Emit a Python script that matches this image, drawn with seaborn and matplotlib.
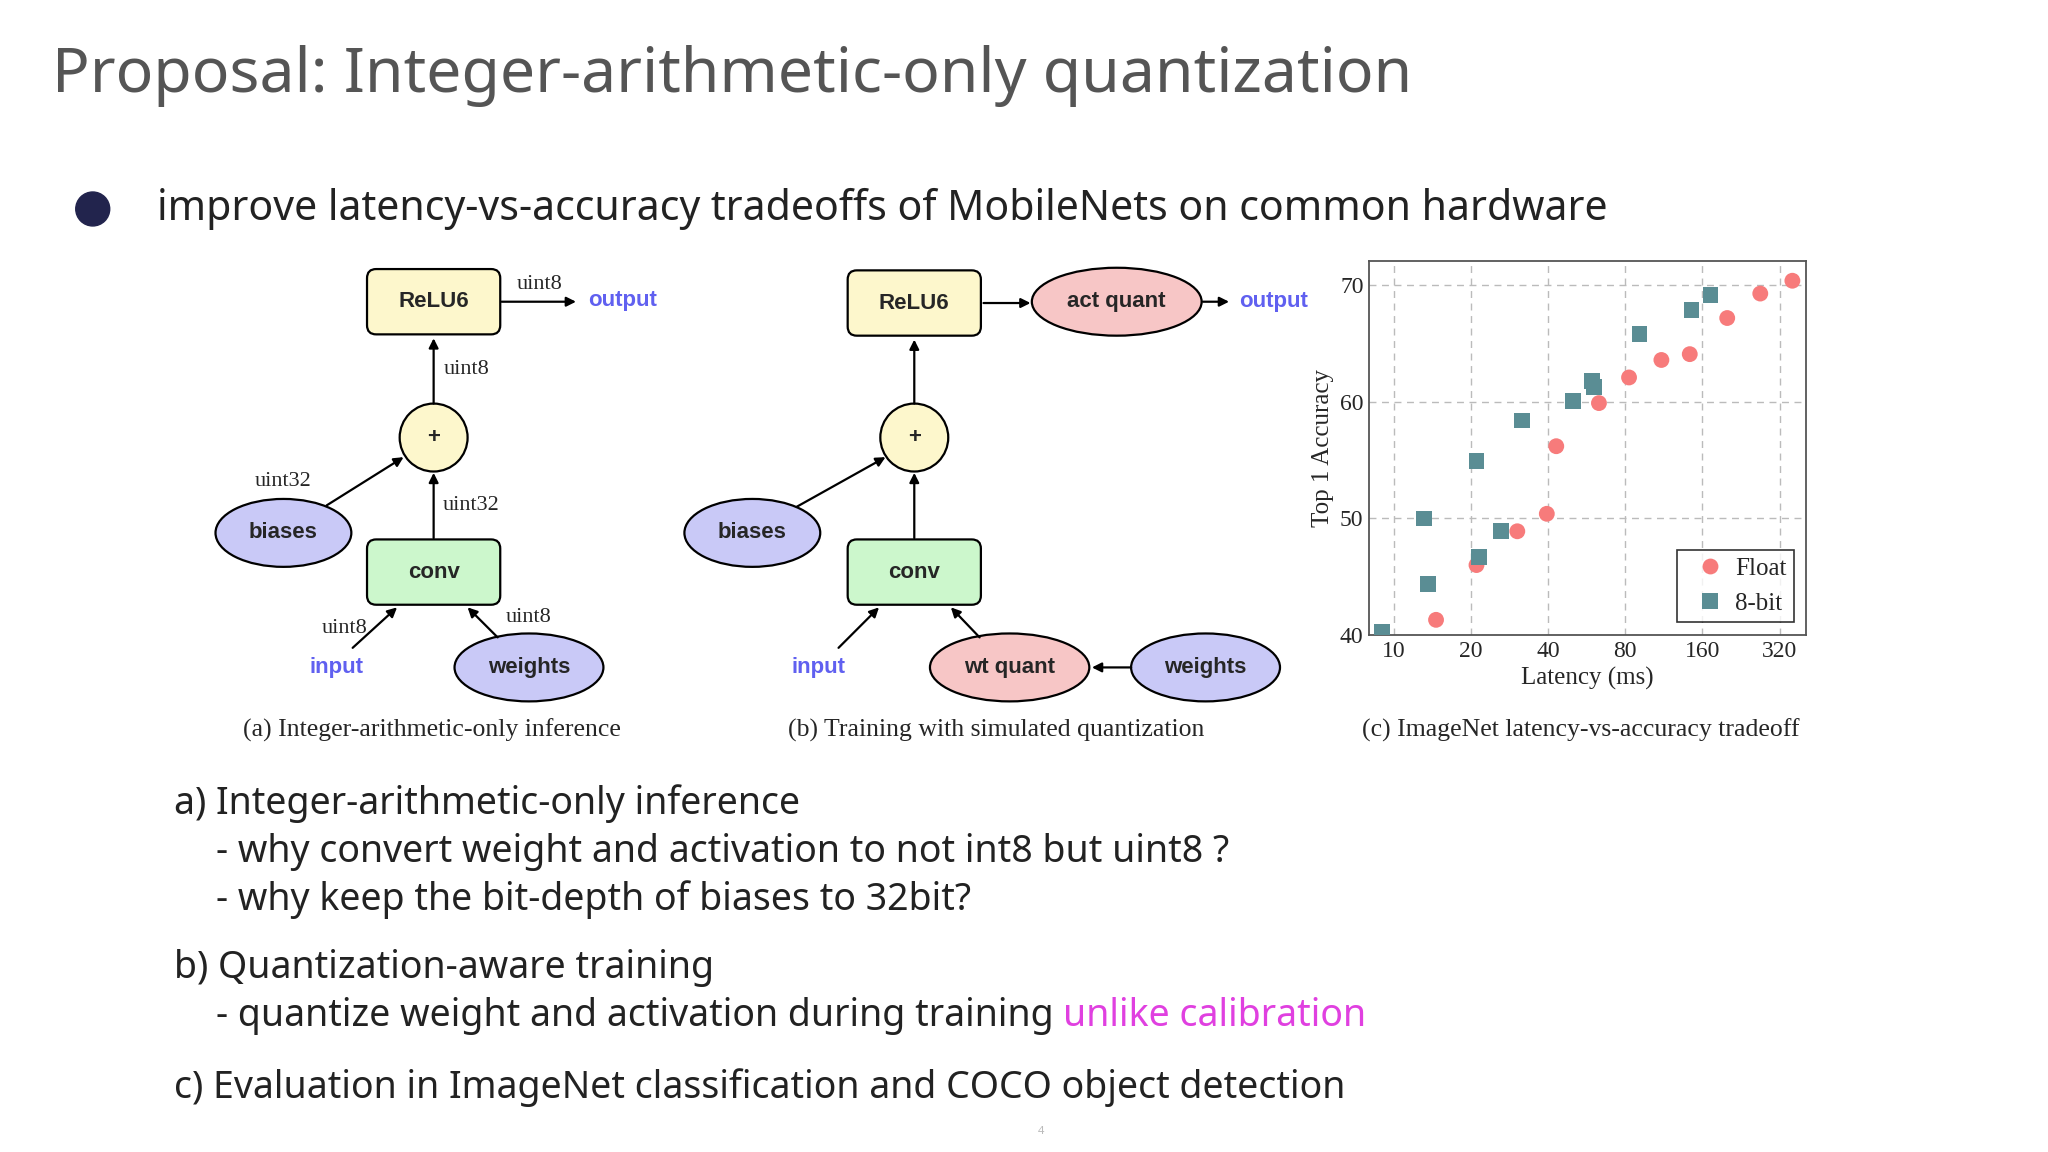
import matplotlib
matplotlib.use("Agg")
import matplotlib.pyplot as plt
from matplotlib.patches import FancyBboxPatch, Ellipse, Circle
import seaborn as sns
import pandas as pd

sns.set_theme(style="whitegrid")
plt.rcParams['font.family'] = ['Noto Sans', 'DejaVu Sans']

# ---- data ----
float_latency = [14.6, 21.0, 30.3, 39.5, 43.0, 63.1, 82.7, 110.6, 142.7, 199.8, 268.9, 358.8]
float_acc = [41.3, 46.0, 48.9, 50.4, 56.2, 59.9, 62.1, 63.6, 64.1, 67.2, 69.3, 70.4]
int8_latency = [9.0, 13.1, 13.6, 21.0, 21.4, 26.2, 31.6, 49.9, 59.4, 60.5, 90.8, 144.9, 172.0]
int8_acc = [40.3, 50.0, 44.4, 54.9, 46.7, 48.9, 58.4, 60.1, 61.8, 61.3, 65.8, 67.9, 69.2]
x_ticks = [10, 20, 40, 80, 160, 320]
y_ticks = [40, 50, 60, 70]
series_names = ["Float", "8-bit"]

df = pd.DataFrame({
    "Latency": float_latency + int8_latency,
    "Acc": float_acc + int8_acc,
    "type": [series_names[0]] * len(float_latency) + [series_names[1]] * len(int8_latency),
})

fig = plt.figure(figsize=(20.48, 11.52), dpi=100)
fig.patch.set_facecolor("white")

ov = fig.add_axes([0, 0, 1, 1])
ov.set_xlim(0, 1568); ov.set_ylim(882, 0); ov.axis("off")

ov.text(40, 58, "Proposal: Integer-arithmetic-only quantization", fontsize=45,
        fontweight="bold", color="#555555", va="center", ha="left")
ov.add_patch(Circle((71, 160), 13, color="#22244d"))
ov.text(120, 160, "improve latency-vs-accuracy tradeoffs of MobileNets on common hardware",
        fontsize=29.5, va="center", ha="left", color="#222222")

BODY = 27
lines = [
    (133, 615, "a) Integer-arithmetic-only inference"),
    (165, 652, "- why convert weight and activation to not int8 but uint8 ?"),
    (165, 689, "- why keep the bit-depth of biases to 32bit?"),
    (133, 741, "b) Quantization-aware training"),
    (133, 833, "c) Evaluation in ImageNet classification and COCO object detection"),
]
for x, y, t in lines:
    ov.text(x, y, t, fontsize=BODY, va="center", ha="left", color="#222222")
t1 = ov.text(165, 778, "- quantize weight and activation during training ", fontsize=BODY,
             va="center", ha="left", color="#222222")
ov.annotate("unlike calibration", xycoords=t1, xy=(1, 0.5), va="center", ha="left",
            fontsize=BODY, color="#e040e0")
ov.text(797, 866, "4", fontsize=8, color="#bbbbbb", ha="center", va="center")

SANS = ["Liberation Sans", "DejaVu Sans"]
SERIF = ["Liberation Serif", "DejaVu Serif"]
YEL, GRN, LAV, PNK, BLU = "#fdf7cc", "#ccf7cc", "#c9c9f7", "#f7c6c6", "#6060f0"

def box(cx, cy, label, fc):
    ov.add_patch(FancyBboxPatch((cx - 48, cy - 22), 96, 44, boxstyle="round,pad=3,rounding_size=7",
                                fc=fc, ec="black", lw=1.6))
    ov.text(cx, cy, label, family=SANS, fontweight="bold", fontsize=16, ha="center", va="center")

def ell(cx, cy, w, label, fc):
    ov.add_patch(Ellipse((cx, cy), w, 52, fc=fc, ec="black", lw=1.6))
    ov.text(cx, cy, label, family=SANS, fontweight="bold", fontsize=16, ha="center", va="center")

def plus(cx, cy):
    ov.add_patch(Circle((cx, cy), 26, fc=YEL, ec="black", lw=1.6))
    ov.text(cx, cy, "+", family=SANS, fontweight="bold", fontsize=16, ha="center", va="center")

def arr(x0, y0, x1, y1):
    ov.annotate("", xy=(x1, y1), xytext=(x0, y0),
                arrowprops=dict(arrowstyle="-|>", color="black", lw=1.6, shrinkA=0, shrinkB=0,
                                mutation_scale=14))

def lab(x, y, t, **kw):
    ov.text(x, y, t, family=SERIF, fontsize=16, ha="center", va="center", **kw)

CAP = 18.5

box(332, 231, "ReLU6", YEL)
plus(332, 335)
box(332, 438, "conv", GRN)
ell(217, 408, 104, "biases", LAV)
ell(405, 511, 114, "weights", LAV)
ov.text(258, 511, "input", family=SANS, fontweight="bold", fontsize=16, color=BLU, ha="center", va="center")
ov.text(477, 230, "output", family=SANS, fontweight="bold", fontsize=16, color=BLU, ha="center", va="center")
arr(384, 231, 441, 231); arr(332, 309, 332, 259); arr(250, 387, 309, 350)
arr(332, 412, 332, 362); arr(270, 496, 304, 465); arr(381, 488, 358, 465)
lab(413, 218, "uint8"); lab(357, 283, "uint8"); lab(217, 369, "uint32")
lab(361, 387, "uint32"); lab(264, 481, "uint8"); lab(405, 473, "uint8")
ov.text(331, 559, "(a) Integer-arithmetic-only inference", family=SERIF, fontsize=CAP, ha="center", va="center")

box(700, 232, "ReLU6", YEL)
ell(855, 231, 130, "act quant", PNK)
ov.text(975, 231, "output", family=SANS, fontweight="bold", fontsize=16, color=BLU, ha="center", va="center")
plus(700, 335)
box(700, 438, "conv", GRN)
ell(576, 408, 104, "biases", LAV)
ell(773, 511, 122, "wt quant", PNK)
ell(923, 511, 114, "weights", LAV)
ov.text(627, 511, "input", family=SANS, fontweight="bold", fontsize=16, color=BLU, ha="center", va="center")
arr(753, 232, 789, 232); arr(921, 231, 941, 231); arr(700, 309, 700, 260)
arr(610, 388, 678, 350); arr(700, 412, 700, 362); arr(642, 496, 673, 465)
arr(750, 488, 728, 465); arr(866, 511, 836, 511)
ov.text(763, 559, "(b) Training with simulated quantization", family=SERIF, fontsize=CAP, ha="center", va="center")
ov.text(1210, 559, "(c) ImageNet latency-vs-accuracy tradeoff", family=SERIF, fontsize=CAP, ha="center", va="center")

ax = fig.add_axes([0.6685, 0.4488, 0.2134, 0.3247])
sns.scatterplot(data=df, x="Latency", y="Acc", hue="type", style="type",
                markers={"Float": "o", "8-bit": "s"},
                palette={"Float": "#f77b7b", "8-bit": "#5a8d94"},
                s=130, linewidth=0, ax=ax, zorder=3)
ax.set_xscale("log", base=2)
ax.set_xlim(8.0, 406)
ax.set_ylim(40.0, 72.1)
ax.set_xticks(x_ticks)
ax.set_xticklabels([str(v) for v in x_ticks], family=SERIF, fontsize=17)
ax.set_xticks([], minor=True)
ax.set_yticks(y_ticks)
ax.set_yticklabels([str(v) for v in y_ticks], family=SERIF, fontsize=17)
ax.set_xlabel("Latency (ms)", family=SERIF, fontsize=18)
ax.set_ylabel("Top 1 Accuracy", family=SERIF, fontsize=18)
ax.set_facecolor("white")
ax.grid(True, ls=(0, (5, 4)), color="#bbbbbb", lw=1)
for s in ax.spines.values():
    s.set_color("#555555"); s.set_linewidth(1.3)
ax.tick_params(length=0, pad=4)
leg = ax.legend(loc="lower right", prop={"family": SERIF, "size": 18}, frameon=True,
                fancybox=False, handletextpad=0.0, borderpad=0.3, markerscale=1.0)
leg.get_frame().set_edgecolor("black"); leg.get_frame().set_linewidth(1.2)

fig.savefig("out.png", dpi=100, facecolor="white")
